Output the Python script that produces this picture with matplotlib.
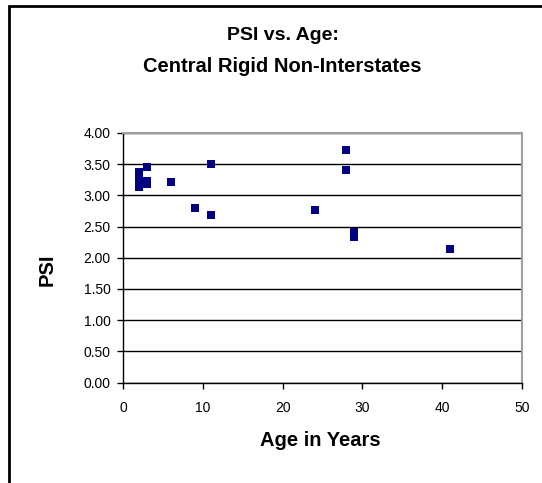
import matplotlib
matplotlib.use("Agg")
import matplotlib.pyplot as plt
from matplotlib.patches import Rectangle

plt.rcParams['font.family'] = ['Liberation Sans', 'DejaVu Sans']

# age (years) and PSI
age = [2, 2, 2, 3, 3, 3, 6, 9, 11, 11, 24, 28, 28, 29, 29, 41]
psi = [3.38, 3.25, 3.13, 3.45, 3.23, 3.18, 3.22, 2.80, 3.51, 2.68,
       2.77, 3.73, 3.41, 2.42, 2.34, 2.14]
xticks = [0, 10, 20, 30, 40, 50]
yticks = [0.0, 0.5, 1.0, 1.5, 2.0, 2.5, 3.0, 3.5, 4.0]

W, H = 542, 483
fig = plt.figure(figsize=(W/100, H/100), dpi=100)
ax = fig.add_axes([123.3/W, 1-382.5/H, (521.7-123.3)/W, (382.5-133)/H])

ax.scatter(age, psi, marker='s', s=36, color='#000080', zorder=3, linewidths=0)

ax.set_xlim(0, 50)
ax.set_ylim(0, 4)
ax.set_xticks(xticks)
ax.set_yticks(yticks)
ax.set_yticklabels(['%.2f' % v for v in yticks])
ax.tick_params(direction='out', length=4, width=1, labelsize=10, colors='black')
ax.tick_params(axis='x', pad=9)
ax.tick_params(axis='y', pad=5)
ax.yaxis.grid(True, color='black', linewidth=1)
ax.set_axisbelow(True)

for s in ['left', 'bottom']:
    ax.spines[s].set_color('black')
    ax.spines[s].set_linewidth(1)
for s in ['top', 'right']:
    ax.spines[s].set_color('#a0a0a0')
    ax.spines[s].set_linewidth(1.5)

ax.set_xlabel('Age in Years', fontsize=14.5, fontweight='bold')
ax.set_ylabel('PSI', fontsize=14.5, fontweight='bold')
ax.xaxis.set_label_coords((320-123.3)/398.4, (382.5-440)/249.5)
ax.yaxis.set_label_coords((47-123.3)/398.4, (382.5-270)/249.5)
ax.xaxis.label.set_va('center')
ax.yaxis.label.set_va('center')

fig.text(283/W, 1-36/H, 'PSI vs. Age:', ha='center', va='center',
         fontsize=14, fontweight='bold')
fig.text(282/W, 1-67/H, 'Central Rigid Non-Interstates', ha='center', va='center',
         fontsize=14.5, fontweight='bold')

# outer chart border (clipped at right/bottom like the source)
fig.patches.append(Rectangle((9/W, -0.1), 1.2, 1 - 6/H + 0.1, transform=fig.transFigure,
                             fill=False, edgecolor='black', linewidth=2))

fig.savefig('out.png', dpi=100)
